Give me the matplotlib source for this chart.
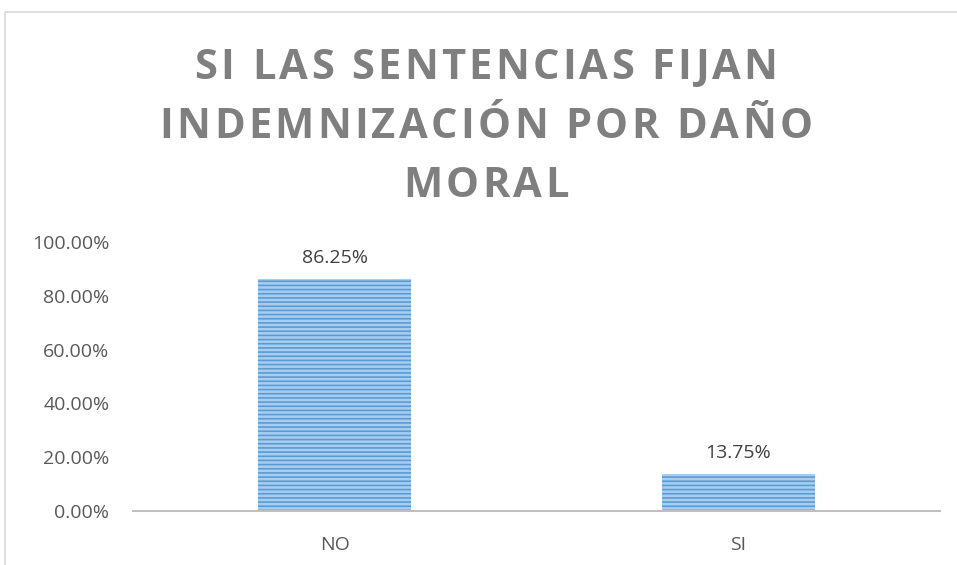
import matplotlib.pyplot as plt
from matplotlib.patches import Rectangle
from matplotlib.ticker import FuncFormatter
from matplotlib import font_manager
from matplotlib.ft2font import FT2Font

categorias = ['NO', 'SI']
porcentajes = [0.8625, 0.1375]
etiquetas = ['86.25%', '13.75%']
titulo = ['SI LAS SENTENCIAS FIJAN', 'INDEMNIZACIÓN POR DAÑO', 'MORAL']

plt.rcParams['font.family'] = ['Open Sans', 'DejaVu Sans']
plt.rcParams['hatch.linewidth'] = 1.2

W, H, DPI = 957, 565, 100
fig = plt.figure(figsize=(W / DPI, H / DPI), dpi=DPI)
ax = fig.add_axes([133 / W, 1 - 511 / H, (940 - 133) / W, (511 - 242) / H])

# marco del gráfico
fig.patches.append(Rectangle((5 / W, -0.5), 2, 1.5 - 12 / H, transform=fig.transFigure,
                             fill=False, edgecolor='#d9d9d9', linewidth=1.2))

x = range(len(categorias))
bars = ax.bar(x, porcentajes, width=0.38, color='#a9cdef', edgecolor='#5b9bd5',
              hatch='----', linewidth=0)
for b, t in zip(bars, etiquetas):
    ax.text(b.get_x() + b.get_width() / 2, b.get_height() + 0.045, t,
            ha='center', va='bottom', fontsize=14, color='#404040')

ax.set_xlim(-0.5, 1.5)
ax.set_ylim(0, 1)
ax.set_yticks([0, 0.2, 0.4, 0.6, 0.8, 1.0])
ax.yaxis.set_major_formatter(FuncFormatter(lambda v, p: f'{v * 100:.2f}%'))
ax.set_xticks(list(x))
ax.set_xticklabels(categorias)
ax.tick_params(length=0, labelsize=14, colors='#595959')
ax.tick_params(axis='y', pad=17)
ax.tick_params(axis='x', pad=18)
for s in ['top', 'right', 'left']:
    ax.spines[s].set_visible(False)
ax.spines['bottom'].set_color('#bfbfbf')
ax.spines['bottom'].set_linewidth(1.5)

# título con espaciado entre letras
tsize = 30
tracking = 3.3
fp = font_manager.FontProperties(family='Open Sans', weight='bold')
font = FT2Font(font_manager.findfont(fp))
font.set_size(tsize, DPI)
centro = 486
baselines = [79, 138, 197]
for linea, yb in zip(titulo, baselines):
    avances = [font.load_char(ord(c)).linearHoriAdvance / 65536 for c in linea]
    total = sum(avances) + tracking * (len(linea) - 1)
    xp = centro - total / 2
    for c, a in zip(linea, avances):
        fig.text(xp / W, 1 - yb / H, c, ha='left', va='baseline', fontsize=tsize,
                 fontweight='bold', color='#7f7f7f')
        xp += a + tracking

fig.savefig('out.png', dpi=DPI)
